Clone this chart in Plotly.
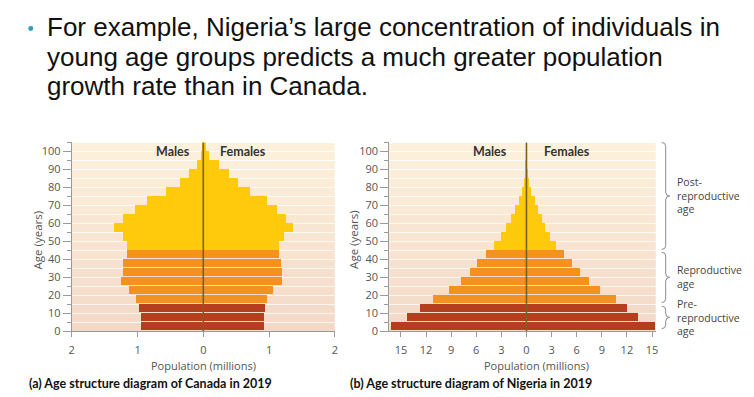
import plotly.graph_objects as go

# ---------------- data ----------------
age_start = list(range(0, 105, 5))          # 0-4 ... 100+
stage_names = ["Pre-reproductive"] * 3 + ["Reproductive"] * 6 + ["Post-reproductive"] * 12

canada_male = [0.95, 0.95, 0.98, 1.02, 1.13, 1.26, 1.23, 1.22, 1.17, 1.16, 1.22, 1.36,
               1.23, 1.04, 0.86, 0.57, 0.36, 0.22, 0.10, 0.035, 0.01]
canada_female = [0.92, 0.92, 0.93, 0.97, 1.06, 1.20, 1.19, 1.18, 1.14, 1.14, 1.22, 1.36,
                 1.26, 1.12, 0.96, 0.71, 0.52, 0.38, 0.23, 0.09, 0.03]
nigeria_male = [16.2, 14.2, 12.7, 11.2, 9.25, 7.83, 6.72, 5.85, 4.82, 3.83, 3.0, 2.37,
                1.78, 1.30, 0.91, 0.55, 0.32, 0.12, 0.05, 0.02, 0.01]
nigeria_female = [15.4, 13.4, 12.05, 10.75, 8.85, 7.47, 6.40, 5.49, 4.47, 3.52, 2.85, 2.29,
                  1.86, 1.42, 1.03, 0.59, 0.32, 0.16, 0.06, 0.02, 0.01]

canada_ticks = [-2, -1, 0, 1, 2]
nigeria_ticks = [-15, -12, -9, -6, -3, 0, 3, 6, 9, 12, 15]
age_ticks = list(range(0, 101, 10))

stage_colors = {"Pre-reproductive": "#b43f1f", "Reproductive": "#f5911f",
                "Post-reproductive": "#ffc90c"}
brace_ranges = [(45.5, 105, "Post-<br>reproductive<br>age"),
                (16, 44, "Reproductive<br>age"),
                (1.5, 14, "Pre-<br>reproductive<br>age")]

# ---------------- layout helpers ----------------
W, H = 754, 397
YDOM = [1 - 337.3 / H, 1 - 145 / H]
YMAX = 105
X1DOM = [69.3 / W, 334.5 / W]
X2DOM = [389.3 / W, 658 / W]
X2RANGE = [-16.4, 15.45]

def px(x):
    return x / W

def py(y):
    return 1 - y / H

def age_to_paper(a):
    return YDOM[0] + a / YMAX * (YDOM[1] - YDOM[0])

bar_y = [a + 2.5 for a in age_start]
bar_colors = [stage_colors[s] for s in stage_names]

fig = go.Figure()
for male, female, xa, ya in [(canada_male, canada_female, "x", "y"),
                             (nigeria_male, nigeria_female, "x2", "y2")]:
    fig.add_trace(go.Bar(y=bar_y, x=[-v for v in male], orientation="h", width=4.5,
                         marker=dict(color=bar_colors, line=dict(width=0)),
                         xaxis=xa, yaxis=ya, name="Males", showlegend=False))
    fig.add_trace(go.Bar(y=bar_y, x=female, orientation="h", width=4.5,
                         marker=dict(color=bar_colors, line=dict(width=0)),
                         xaxis=xa, yaxis=ya, name="Females", showlegend=False))

shapes = []
# striped background gradient
bot = (243, 217, 199)
top = (253, 241, 220)
n = len(age_start)
for xa, ya in [("x", "y"), ("x2", "y2")]:
    for i, a in enumerate(age_start):
        t = i / (n - 1)
        c = tuple(round(bot[k] + (top[k] - bot[k]) * t) for k in range(3))
        shapes.append(dict(type="rect", xref=xa + " domain", yref=ya, x0=0, x1=1,
                           y0=a + 0.25, y1=a + 4.75, fillcolor="rgb(%d,%d,%d)" % c,
                           line=dict(width=0), layer="below"))
    shapes.append(dict(type="line", xref=xa, yref=ya, x0=0, x1=0, y0=0, y1=YMAX,
                       line=dict(color="#7d5f22", width=1.6), layer="above"))

# braces
xb = 668
dx, dy = 4 / W, 4 / H
annotations = []
for lo, hi, label in brace_ranges:
    x = px(xb)
    yt, yb = age_to_paper(hi), age_to_paper(lo)
    ym = (yt + yb) / 2
    path = (f"M {x - dx},{yt} Q {x},{yt} {x},{yt - dy} L {x},{ym + dy} "
            f"Q {x},{ym} {x + dx},{ym} Q {x},{ym} {x},{ym - dy} L {x},{yb + dy} "
            f"Q {x},{yb} {x - dx},{yb}")
    shapes.append(dict(type="path", xref="paper", yref="paper", path=path,
                       line=dict(color="#8a8a8a", width=1)))
    annotations.append(dict(x=px(677), y=ym, xref="paper", yref="paper", text=label,
                            showarrow=False, xanchor="left", yanchor="middle", align="left",
                            font=dict(family="Open Sans", size=10.5, color="#444")))

# bullet dot
shapes.append(dict(type="circle", xref="paper", yref="paper",
                   x0=px(25.5), x1=px(30.5), y0=py(31.5), y1=py(26.5),
                   fillcolor="#2b9cc0", line=dict(width=0)))

tick_font = dict(family="Open Sans", size=11, color="#555")
axis_common = dict(showline=True, linecolor="#9a9a9a", linewidth=1, ticks="outside",
                   tickcolor="#9a9a9a", showgrid=False, zeroline=False, tickfont=tick_font)

fig.update_layout(
    width=W, height=H, margin=dict(l=0, r=0, t=0, b=0),
    paper_bgcolor="white", plot_bgcolor="white", barmode="overlay", bargap=0,
    showlegend=False,
    xaxis=dict(domain=X1DOM, range=[-2, 2], anchor="y", tickvals=canada_ticks,
               ticktext=[str(abs(v)) for v in canada_ticks], ticklen=5,
               ticklabelstandoff=3, **axis_common),
    yaxis=dict(domain=YDOM, range=[0, YMAX], anchor="x", tickvals=age_ticks, ticklen=8,
               minor=dict(dtick=5, tick0=0, ticklen=4, ticks="outside", tickcolor="#9a9a9a"),
               **axis_common),
    xaxis2=dict(domain=X2DOM, range=X2RANGE, anchor="y2", tickvals=nigeria_ticks,
                ticktext=[str(abs(v)) for v in nigeria_ticks], ticklen=5,
                ticklabelstandoff=3, **axis_common),
    yaxis2=dict(domain=YDOM, range=[0, YMAX], anchor="x2", tickvals=age_ticks, ticklen=8,
                minor=dict(dtick=5, tick0=0, ticklen=4, ticks="outside", tickcolor="#9a9a9a"),
                **axis_common),
    shapes=shapes,
)

bold_font = "Lato, Roboto, sans-serif"
label_font = dict(family="Open Sans", size=11.5, color="#555")
mf_font = dict(family=bold_font, size=12.5, color="#333")

def ann(x, y, text, font, **kw):
    d = dict(x=px(x), y=py(y), xref="paper", yref="paper", text=text, showarrow=False,
             font=font, xanchor="center", yanchor="middle")
    d.update(kw)
    annotations.append(d)

for cx_m, cx_f in [(171, 242), (491, 569)]:
    ann(cx_m, 154, "<b>Males</b>", mf_font)
    ann(cx_f, 154, "<b>Females</b>", mf_font)
for cx in [35, 354]:
    ann(cx, 244, "Age (years)", label_font, textangle=-90)
for cx in [202.5, 538]:
    ann(cx, 372, "Population (millions)", dict(family="Open Sans", size=11, color="#555"))
cap_font = dict(family=bold_font, size=12.5, color="#111")
ann(24, 390, "<b>(a) Age structure diagram of Canada in 2019</b>", cap_font, xanchor="left")
ann(348, 390, "<b>(b) Age structure diagram of Nigeria in 2019</b>", cap_font, xanchor="left")

# slide text
title_lines = ["For example, Nigeria’s large concentration of individuals in",
               "young age groups predicts a much greater population",
               "growth rate than in Canada."]
title_font = dict(family="Liberation Sans, Arial, sans-serif", size=26, color="#111")
for line, yc in zip(title_lines, [27, 58, 88]):
    ann(42, yc, line, title_font, xanchor="left")

fig.update_layout(annotations=annotations)
fig.write_html("out.html", config={"displayModeBar": False},
               post_script="document.body.style.margin='0';document.body.style.padding='0';")
